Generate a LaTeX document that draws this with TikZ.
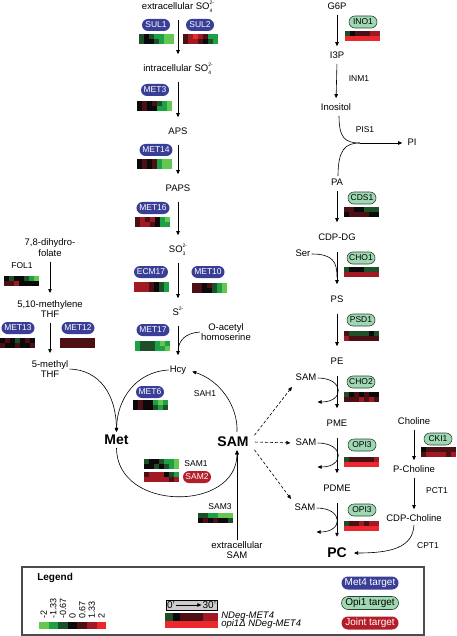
\documentclass[tikz,border=0pt]{standalone}
\usepackage{fontspec}
\setmainfont{Liberation Sans}
\usetikzlibrary{positioning, arrows.meta, shapes.misc, calc}
\definecolor{metblue}{RGB}{57,62,150}
\definecolor{opigreen}{RGB}{160,216,180}
\definecolor{opiedge}{RGB}{40,70,50}
\definecolor{jointred}{RGB}{180,30,40}
\definecolor{gl}{RGB}{100,200,80}
\definecolor{gm}{RGB}{30,160,70}
\definecolor{gd}{RGB}{30,80,40}
\definecolor{bk}{RGB}{10,10,10}
\definecolor{rd}{RGB}{75,15,20}
\definecolor{rm}{RGB}{160,25,35}
\definecolor{rl}{RGB}{235,40,45}
\tikzset{
  >={Triangle[length=4pt,width=3.5pt]},
  txt/.style={font=\fontsize{9.5}{10.5}\selectfont, inner sep=1pt, text height=7pt, text depth=2pt},
  txt2/.style={font=\fontsize{9.5}{10.5}\selectfont, inner sep=1pt, align=center},
  lbl/.style={font=\fontsize{8.5}{9}\selectfont, inner sep=1pt},
  big/.style={font=\fontsize{14}{14}\selectfont\bfseries, inner sep=1pt},
  lgd/.style={font=\fontsize{10}{10}\selectfont, inner sep=1pt},
  pill/.style={rounded rectangle, minimum height=12pt, minimum width=32pt, inner xsep=2pt, inner ysep=0pt, font=\fontsize{8.5}{9}\selectfont},
  met4/.style={pill, fill=metblue, text=white},
  opi1/.style={pill, fill=opigreen, draw=opiedge, line width=0.6pt},
  joint/.style={pill, fill=jointred, text=white},
  bigpill/.style={minimum width=61pt, minimum height=13pt, font=\fontsize{10}{10}\selectfont},
  flow/.style={->, shorten <=7pt, shorten >=9pt},
  flowt/.style={->, shorten <=2pt, shorten >=4pt},
  flowl/.style={->, shorten <=8.5pt, shorten >=10pt},
  flowf/.style={->, shorten <=4pt, shorten >=6pt},
  methyl/.style={->, dash pattern=on 3pt off 2pt, shorten <=1pt, shorten >=4pt},
}
\newcommand{\chem}[3]{#1\rlap{\raisebox{-0.5ex}{\tiny #2}}\raisebox{0.9ex}{\tiny #3}}
\newcommand{\hmap}[4][1]{%
  \begin{scope}[shift={(#2)}, scale=#1]
    \foreach \col [count=\i from 0] in {#3} {\fill[\col] (\i*5,0) rectangle ++(5,5);}
    \foreach \col [count=\i from 0] in {#4} {\fill[\col] (\i*5,5) rectangle ++(5,5);}
  \end{scope}}

\begin{document}
\begin{tikzpicture}[x=1pt, y=-1pt, line width=0.6pt]
  \useasboundingbox (0,0) rectangle (456,636);

  % sulfur assimilation
  \node[txt] (so4e) at (178,7) {extracellular \chem{SO}{4}{2-}};
  \node[txt] (so4i) at (178,69) {intracellular \chem{SO}{4}{2-}};
  \node[txt] (aps) at (178,132) {APS};
  \node[txt] (paps) at (178,189) {PAPS};
  \node[txt] (so3) at (178,250) {\chem{SO}{3}{2-}};
  \node[txt] (s2) at (178,313) {S\raisebox{0.9ex}{\tiny 2-}};
  \node[txt] (hcy) at (178,370) {Hcy};
  \node[txt2] (oah) at (226,332) {O-acetyl\\homoserine};
  \coordinate (oahj) at (178,352);
  \foreach \src/\dst in {so4e/so4i, so4i/aps, aps/paps, paps/so3, so3/s2, s2/hcy}
    \draw[flow] (\src.south) -- (\dst.north);
  \draw (oah.west) .. controls (186,333) and (178,340) .. (oahj);

  \node[met4] (sul1) at (156,25) {SUL1};
  \node[met4] (sul2) at (200,25) {SUL2};
  \node[met4] (met3) at (155,90) {MET3};
  \node[met4] (met14) at (156,150) {MET14};
  \node[met4] (met16) at (153,208) {MET16};
  \node[met4] (ecm17) at (151,272) {ECM17};
  \node[met4] (met10) at (208,272) {MET10};
  \node[met4] (met17) at (153,330) {MET17};
  \node[met4] (met6) at (150,392) {MET6};
  \hmap{139,34}{gd,bk,gd,gm,gm,gl,gl}{gd,bk,bk,gd,gm,gl,gl}
  \hmap{183,34}{rd,rm,rl,rm,rd,gm,gm}{rd,rm,rm,rd,bk,gd,gm}
  \hmap{137,101}{bk,rd,bk,rd,gd,gm,gl}{bk,rd,bk,bk,gm,gm,gl}
  \hmap{137,159}{bk,rd,bk,rd,gm,gl,gl}{bk,rd,bk,rd,gm,gl,gl}
  \hmap{135,217}{rd,rm,rd,rm,bk,gm,gl}{rd,rm,rm,rd,bk,gm,gm}
  \hmap{134,282}{rm,rm,rm,rd,bk,gd,gm}{rm,rm,rm,rd,bk,gd,gm}
  \hmap{192,283}{rd,rd,bk,rd,gd,gm,gl}{rd,rd,bk,bk,gd,gm,gl}
  \hmap{135,341}{gm,gd,gd,gd,gm,gl,gm}{gm,gd,gd,gd,gm,gm,gl}
  \hmap{133,400}{bk,rd,bk,bk,gm,gl,gm}{bk,rd,bk,bk,gd,gm,gd}

  % folate
  \node[txt2] (dhf) at (50,247.5) {7,8-dihydro-\\folate};
  \node[txt2] (mthf) at (50,309) {5,10-methylene\\THF};
  \node[txt2] (methf) at (50,369) {5-methyl\\THF};
  \draw[flowf] (dhf.south) -- (mthf.north);
  \draw[flowf] (mthf.south) -- (methf.north);
  \node[lbl] (fol1) at (22,266) {FOL1};
  \node[met4] (met13) at (18,328) {MET13};
  \node[met4] (met12) at (78,328) {MET12};
  \hmap{4,276}{bk,gd,bk,bk,gd,gm,gl}{rd,rd,rm,bk,bk,bk,bk}
  \hmap{0,338}{bk,rd,bk,gd,bk,rd,bk}{rd,bk,bk,rd,bk,bk,rd}
  \hmap{60,338}{rd,rd,rd,rd,rd,rd,rd}{rd,rd,rd,rd,rd,rd,rd}

  % methyl cycle
  \node[big] (met) at (116.5,440) {Met};
  \node[big] (sam) at (233,442) {SAM};
  \node[txt2] (esam) at (237,550) {extracellular\\SAM};
  \node[lbl] (sah1) at (205,394) {SAH1};
  \node[lbl] (sam1) at (196,464) {SAM1};
  \node[joint] (sam2) at (197,477) {SAM2};
  \node[lbl] (sam3) at (220,507) {SAM3};
  \hmap{144,459}{gd,bk,bk,gd,gm,gm,gl}{bk,bk,gd,bk,gd,gm,gl}
  \hmap{144,472}{rd,rm,rm,rm,bk,gd,gm}{rm,rm,rm,rm,rm,rd,rm}
  \hmap{198,513}{gd,gd,gm,gm,gl,gl,gl}{bk,rd,bk,rd,bk,bk,gd}
  \draw[->, shorten >=5pt] ($(sam.north)+(4,-4)$) .. controls (238,405) and (219,380) .. (hcy.east);
  \draw[->, shorten >=2pt] (hcy.west) .. controls (135,372) and (117,400) .. (met.north);
  \draw[->, shorten >=2pt] (methf.east) .. controls (100,370) and (116,395) .. (met.north);
  \draw[->, shorten <=2pt, shorten >=2pt] (met.south) .. controls (117,512) and (237,512) .. ($(sam.south)+(4,0)$);
  \draw[->, shorten >=2pt] (esam.north) -- (esam.north |- sam.south);

  % phospholipids
  \node[txt] (g6p) at (337,7) {G6P};
  \node[txt] (i3p) at (337,56) {I3P};
  \node[txt] (inos) at (336,108) {Inositol};
  \node[txt] (pi) at (412,143) {PI};
  \node[txt] (pa) at (337,183) {PA};
  \node[txt] (cdpdg) at (337,238) {CDP-DG};
  \node[txt] (ser) at (303,254) {Ser};
  \node[txt] (ps) at (337,300) {PS};
  \node[txt] (pe) at (337,362) {PE};
  \node[txt] (pme) at (337,424) {PME};
  \node[txt] (pdme) at (337,489) {PDME};
  \node[big] (pc) at (337,553) {PC};
  \node[txt] (sama) at (306,378) {SAM};
  \node[txt] (samb) at (306,443) {SAM};
  \node[txt] (samc) at (305,508) {SAM};
  \coordinate (pij) at (360,143);
  \coordinate (serj) at (337,277);
  \draw[flowt] (g6p.south) -- (i3p.north);
  \draw[flowt] (i3p.south) -- (inos.north);
  \draw[flowl, shorten <=2pt] (pa.south) -- (cdpdg.north);
  \foreach \src/\dst in {cdpdg/ps, ps/pe, pe/pme, pme/pdme, pdme/pc}
    \draw[flowl] (\src.south) -- (\dst.north);
  \draw ($(inos.south)+(3,2)$) .. controls (339,138) and (345,143) .. (pij);
  \draw ($(pa.north)+(1,-1)$) .. controls (338,150) and (345,143) .. (pij);
  \draw[->, shorten >=4pt] (pij) -- (pi.west);
  \draw (ser.east) .. controls (333,254) and (337,262) .. (serj);
  \foreach \s in {sama, samb, samc}
    \draw[->] (\s.east) .. controls +(27,0) and +(27,0) .. +(0,24);
  \draw[methyl] ($(sam.east)+(4,-6)$) -- (sama.south west);
  \draw[methyl] ($(sam.east)+(4,0)$) -- (samb.west);
  \draw[methyl] ($(sam.east)+(4,7)$) -- (samc.north west);

  \node[lbl] (inm1) at (359,79) {INM1};
  \node[lbl] (pis1) at (365,130) {PIS1};
  \node[opi1] (ino1) at (363,22) {INO1};
  \node[opi1] (cds1) at (362,198) {CDS1};
  \node[opi1] (cho1) at (361,258) {CHO1};
  \node[opi1] (psd1) at (361,320) {PSD1};
  \node[opi1] (cho2) at (361,382) {CHO2};
  \node[opi1] (opi3a) at (362,445) {OPI3};
  \node[opi1] (opi3b) at (362,510) {OPI3};
  \hmap{345,31}{gd,bk,rd,rd,rd,rm,rm}{rl,rl,rl,rl,rl,rl,rl}
  \hmap{344,207}{rd,rd,bk,bk,gd,gd,gd}{bk,rd,rd,rd,rd,bk,bk}
  \hmap{344,267}{gd,bk,bk,bk,gd,gd,gd}{rm,rm,rm,rm,rm,rm,rm}
  \hmap{344,331}{rd,gd,gd,gd,gd,bk,gd}{rm,rd,rd,rd,rd,rd,rd}
  \hmap{344,392}{gd,bk,rd,bk,rd,bk,bk}{rd,rd,rd,rm,rd,rm,rd}
  \hmap{344,457}{gd,rd,rd,rd,rd,rd,rm}{rl,rl,rl,rl,rl,rl,rl}
  \hmap{344,521}{gd,rd,rd,rm,rd,rm,rm}{rl,rl,rl,rl,rl,rl,rl}

  % choline branch
  \node[txt] (chol) at (414,422) {Choline};
  \node[txt] (pcho) at (414,470) {P-Choline};
  \node[txt] (cdpc) at (414,519) {CDP-Choline};
  \node[opi1] (cki1) at (438,439) {CKI1};
  \node[lbl] (pct1) at (437,491) {PCT1};
  \node[lbl] (cpt1) at (428,546) {CPT1};
  \hmap{421,447}{bk,rd,rd,rd,rd,rd,rd}{rd,rm,rm,rm,rm,rd,rm}
  \draw[flowt] (chol.south) -- (pcho.north);
  \draw[flowt] (pcho.south) -- (cdpc.north);
  \draw[->, shorten >=6pt] (cdpc.south) .. controls (413,548) and (390,553) .. (pc.east);

  % legend
  \draw[gray!60!black, line width=1.2pt] (22,567) rectangle (424,635);
  \node[lgd, font=\fontsize{10}{10}\selectfont\bfseries, anchor=west] (leg) at (36,578) {Legend};
  \foreach \col [count=\i from 0] in {gl,gm,gd,bk,rd,rm,rl}
    \fill[\col] (39+\i*9.6,622) rectangle ++(9.6,7);
  \foreach \val [count=\i from 0] in {-2,-1.33,-0.67,0,0.67,1.33,2}
    \node[lgd, font=\fontsize{9}{9}\selectfont, rotate=90, anchor=west] at (43.8+\i*9.6,620) {\val};
  \node[draw, fill=gray!40, minimum width=51pt, minimum height=10pt, inner sep=0pt] (tbox) at (191.5,605) {};
  \node[lgd, anchor=west] (t0) at (tbox.west) {0'};
  \node[lgd, anchor=east] (t30) at (tbox.east) {30'};
  \draw[->] (t0) -- (t30);
  \hmap[1.5]{165,613}{gd,bk,rd,rd,rd,rm,rm}{rl,rl,rl,rl,rl,rl,rl}
  \node[lgd, font=\fontsize{9.5}{9.5}\selectfont\itshape, anchor=west] (ndeg) at (220,616.5) {NDeg-MET4};
  \node[lgd, font=\fontsize{9.5}{9.5}\selectfont\itshape, anchor=west] (opid) at (220,624.3) {opi1Δ NDeg-MET4};
  \node[met4, bigpill] (lmet) at (370,583) {Met4 target};
  \node[opi1, bigpill] (lopi) at (370,603) {Opi1 target};
  \node[joint, bigpill] (ljoint) at (370,623) {Joint target};
\end{tikzpicture}
\end{document}
